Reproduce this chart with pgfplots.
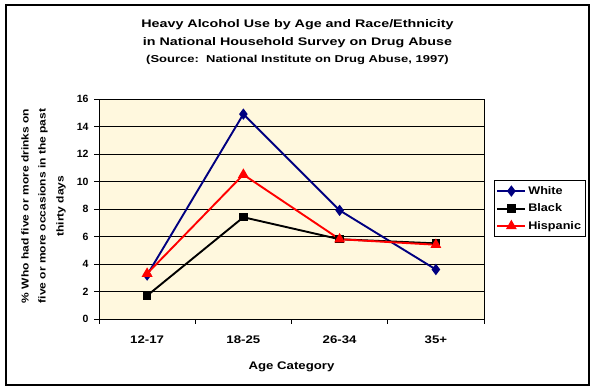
\documentclass[border=0pt]{standalone}
\usepackage{fontspec}
\setmainfont{Liberation Sans}
\newfontfamily\ftitle{Liberation Sans}[FakeStretch=1.3]
\newfontfamily\fmid{Liberation Sans}[FakeStretch=1.2]
\newfontfamily\fleg{Liberation Sans}[FakeStretch=1.15]
\usepackage{pgfplots}
\pgfplotsset{compat=1.18}
\definecolor{navy}{RGB}{0,0,128}
\definecolor{cream}{RGB}{255,248,222}
\begin{document}
\begin{tikzpicture}[x=1pt,y=1pt]
\path[use as bounding box] (0,0) rectangle (595,390);
\draw[line width=1.2pt] (6,5) rectangle (589,385);
\node[anchor=base, font=\ftitle\bfseries\fontsize{11}{13}\selectfont] at (297.5,362) {Heavy Alcohol Use by Age and Race/Ethnicity};
\node[anchor=base, font=\ftitle\bfseries\fontsize{11}{13}\selectfont] at (297.5,344) {in National Household Survey on Drug Abuse};
\node[anchor=base, font=\ftitle\bfseries\fontsize{10}{12}\selectfont] at (297.5,327) {(Source:\ \ National Institute on Drug Abuse, 1997)};
\node[rotate=90, font=\fmid\bfseries\fontsize{10}{12}\selectfont] at (25,184) {\% Who had five or more drinks on};
\node[rotate=90, font=\fmid\bfseries\fontsize{10}{12}\selectfont] at (43,184) {five or more occasions in the past};
\node[rotate=90, font=\fmid\bfseries\fontsize{10}{12}\selectfont] at (61,184) {thirty days};
\node[font=\fmid\bfseries\fontsize{11}{13}\selectfont] at (291.5,23) {Age Category};
\begin{axis}[
  at={(99pt,71pt)}, anchor=south west,
  scale only axis, width=385pt, height=220pt,
  xmin=0, xmax=4, ymin=0, ymax=16,
  xtick={0,1,2,3,4}, xticklabels={12-17,18-25,26-34,35+},
  x tick label as interval,
  ytick={0,2,...,16},
  ymajorgrids, grid style={black, line width=0.8pt},
  axis line style={black, line width=0.8pt},
  tick style={black, line width=0.8pt},
  tick align=outside, major tick length=5pt,
  xtick pos=left, ytick pos=left,
  axis background/.style={fill=cream},
  /pgf/number format/assume math mode=true,
  yticklabel style={font=\bfseries\fontsize{10.5}{12}\selectfont, xshift=-2pt},
  xticklabel style={font=\fmid\bfseries\fontsize{11}{13}\selectfont, yshift=-8pt},
  legend style={at={(1.026,0.632)}, anchor=north west, draw=black, line width=0.8pt, fill=white,
    font=\fleg\bfseries\fontsize{11}{13}\selectfont, inner xsep=2pt, inner ysep=4pt,
    row sep=4pt, cells={anchor=west}},
  legend image code/.code={\draw[#1, mark repeat=2, mark phase=2] plot coordinates {(0pt,0pt) (14pt,0pt) (28pt,0pt)};},
]
\addplot[navy, line width=1.9pt, mark=diamond*, mark size=4.2pt, mark options={solid}] coordinates {(0.5,3.2) (1.5,14.9) (2.5,7.9) (3.5,3.6)};
\addlegendentry{White}
\addplot[black, line width=1.9pt, mark=square*, mark size=3.3pt] coordinates {(0.5,1.7) (1.5,7.4) (2.5,5.8) (3.5,5.5)};
\addlegendentry{Black}
\addplot[red, line width=1.9pt, mark=triangle*, mark size=4.4pt] coordinates {(0.5,3.3) (1.5,10.5) (2.5,5.8) (3.5,5.4)};
\addlegendentry{Hispanic}
\end{axis}
\end{tikzpicture}
\end{document}
